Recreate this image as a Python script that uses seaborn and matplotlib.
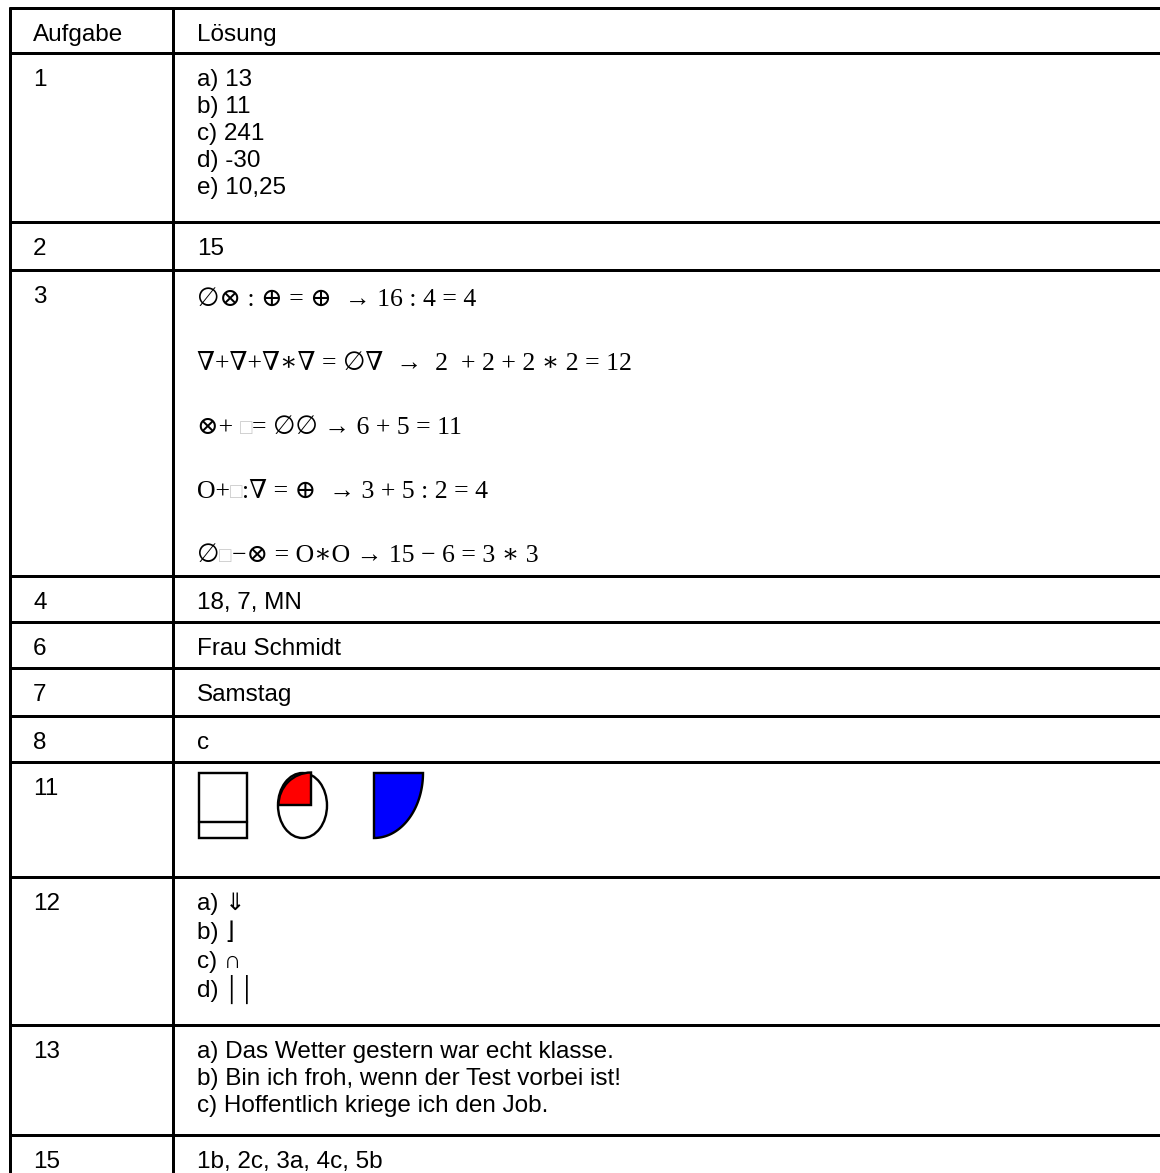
import numpy as np
import matplotlib
matplotlib.use("Agg")
import matplotlib.pyplot as plt
import matplotlib.patches as mpatches
import seaborn as sns

# ==================== DATA ====================
header = ["Aufgabe", "Lösung"]
aufgaben = ["1", "2", "3", "4", "6", "7", "8", "11", "12", "13", "15"]
loesungen = [
    ["a) 13", "b) 11", "c) 241", "d) -30", "e) 10,25"],
    ["15"],
    None,                      # formulas, see below
    ["18, 7, MN"],
    ["Frau Schmidt"],
    ["Samstag"],
    ["c"],
    [],                        # shapes, see below
    ["a) \u21d3", "b) \u230b", "c) \u2229", "d) \u2502\u2502"],
    ["a) Das Wetter gestern war echt klasse.",
     "b) Bin ich froh, wenn der Test vorbei ist!",
     "c) Hoffentlich kriege ich den Job."],
    ["1b, 2c, 3a, 4c, 5b"],
]
# row 3: each formula split in (text, grey?) pieces
formeln = [
    [("∅⊗ : ⊕ = ⊕  → 16 : 4 = 4", False)],
    [("∇+∇+∇∗∇ = ∅∇  →  2  + 2 + 2 ∗ 2 = 12", False)],
    [("⊗+ ", False), ("□", True), ("= ∅∅ → 6 + 5 = 11", False)],
    [("O+", False), ("□", True), (":∇ = ⊕  → 3 + 5 : 2 = 4", False)],
    [("∅", False), ("□", True), ("−⊗ = O∗O → 15 − 6 = 3 ∗ 3", False)],
]

# ==================== LAYOUT (pixels) ====================
W, H = 1160, 1173
X_LEFT, X_DIV = 10, 173
ROW_EDGES = [8, 53, 222, 270, 576, 622, 668, 716, 762, 877, 1025, 1135, 1300]
TXT_X1, TXT_X2 = 33, 197
FIRST_BASE = 33      # baseline of first line below row top
LINE_GAP = 27
FORMEL_FIRST, FORMEL_GAP = 36, 64
LW = 3 * 72 / 100

sns.set_theme(style="white")
plt.rcParams["font.family"] = ["Liberation Sans", "DejaVu Sans"]
SANS = dict(family=["Liberation Sans", "DejaVu Sans"], fontsize=17.5, color="black")
SERIF = dict(family=["Liberation Serif", "DejaVu Serif", "DejaVu Sans"], fontsize=18.5)

fig = plt.figure(figsize=(W / 100, H / 100), dpi=100)
ax = fig.add_axes([0, 0, 1, 1])
ax.set_xlim(0, W)
ax.set_ylim(H, 0)
ax.axis("off")
renderer = fig.canvas.get_renderer()

# grid
ax.hlines(ROW_EDGES[:-1], X_LEFT - 1.5, W, color="black", lw=LW)
ax.vlines([X_LEFT, X_DIV], ROW_EDGES[0] - 1.5, H, color="black", lw=LW)

# header
ax.text(TXT_X1, ROW_EDGES[0] + FIRST_BASE, header[0], va="baseline", **SANS)
ax.text(TXT_X2, ROW_EDGES[0] + FIRST_BASE, header[1], va="baseline", **SANS)


def text_width(s, **kw):
    # width incl. trailing spaces: measure with a sentinel char
    t1 = ax.text(0, 0, s + "|", **kw)
    t2 = ax.text(0, 0, "|", **kw)
    w = t1.get_window_extent(renderer).width - t2.get_window_extent(renderer).width
    t1.remove(); t2.remove()
    return w


for i, (nr, lines) in enumerate(zip(aufgaben, loesungen)):
    top = ROW_EDGES[i + 1]
    ax.text(TXT_X1, top + FIRST_BASE, nr, va="baseline", **SANS)
    if nr == "3":
        for k, parts in enumerate(formeln):
            x = TXT_X2
            y = top + FORMEL_FIRST + k * FORMEL_GAP
            for s, grey in parts:
                col = "#c8c8c8" if grey else "black"
                kw = dict(SERIF, color=col)
                if grey:
                    kw["fontsize"] = SERIF["fontsize"] * 0.8
                ax.text(x, y, s, va="baseline", **kw)
                x += text_width(s, **kw)
        continue
    if nr == "11":
        y0, h = top + 11, 65
        ax.add_patch(mpatches.Rectangle((199, y0), 48, h, fill=False, ec="black", lw=LW * 0.8))
        ax.plot([199, 247], [y0 + 49, y0 + 49], color="black", lw=LW * 0.8)
        ax.add_patch(mpatches.Ellipse((302.5, y0 + h / 2), 49, h, fc="white", ec="black", lw=LW * 0.8))
        ax.add_patch(mpatches.Wedge((311, y0 + 32), 32.5, 180, 270, fc="red", ec="black", lw=LW * 0.8))
        t = np.linspace(0, np.pi / 2, 60)
        px = np.r_[374, 374 + 49 * np.cos(t)]
        py = np.r_[y0, y0 + h * np.sin(t)]
        ax.add_patch(mpatches.Polygon(np.c_[px, py], closed=True, fc="blue", ec="black", lw=LW * 0.8))
        continue
    gap = 29 if nr == "12" else LINE_GAP
    for k, s in enumerate(lines):
        ax.text(TXT_X2, top + FIRST_BASE + k * gap, s, va="baseline", **SANS)

fig.savefig("out.png", dpi=100, facecolor="white")
